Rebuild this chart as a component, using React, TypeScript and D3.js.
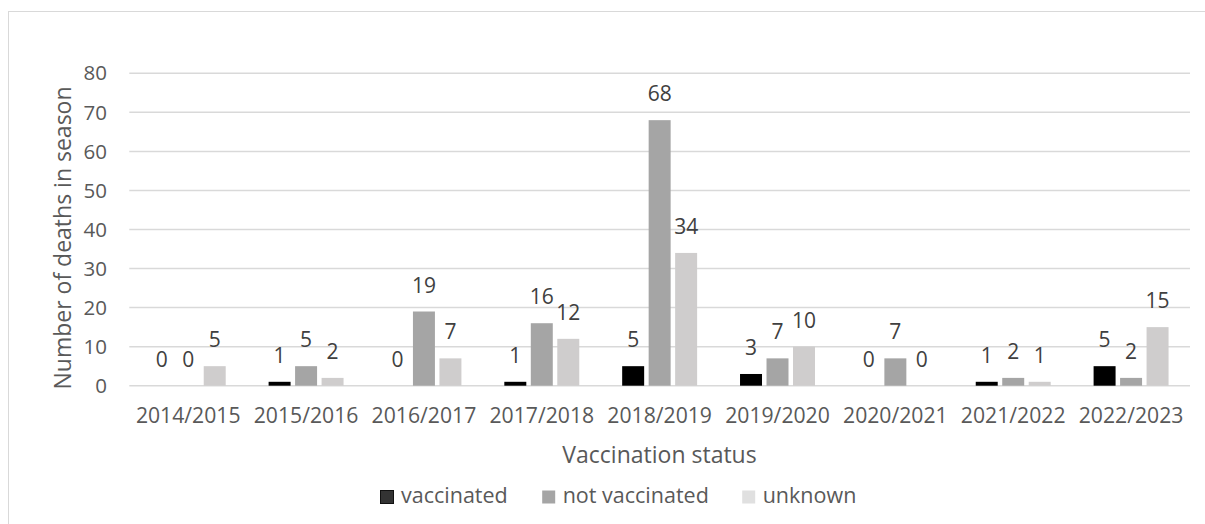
import React from "react";
import * as d3 from "d3";

const categories = ["2014/2015", "2015/2016", "2016/2017", "2017/2018", "2018/2019", "2019/2020", "2020/2021", "2021/2022", "2022/2023"];
const seriesNames = ["vaccinated", "not vaccinated", "unknown"];
const vaccinated = [0, 1, 0, 1, 5, 3, 0, 1, 5];
const notVaccinated = [0, 5, 19, 16, 68, 7, 7, 2, 2];
const unknown = [5, 2, 7, 12, 34, 10, 0, 1, 15];
const yTicks = [0, 10, 20, 30, 40, 50, 60, 70, 80];
const colors = ["#000000", "#a5a5a5", "#cfcdcd"];
const legendColors = ["#333333", "#a5a5a5", "#e0e0e0"];

const W = 1205;
const H = 524;
const FONT = "'Open Sans', sans-serif";

export default function App() {
  const values = [vaccinated, notVaccinated, unknown];
  const x0 = d3.scaleBand<string>().domain(categories).range([129.3, 1190]).paddingInner(0.364).paddingOuter(0.182);
  const x1 = d3.scaleBand<string>().domain(seriesNames).range([0, x0.bandwidth()]).paddingInner(0.17);
  const y = d3.scaleLinear().domain([0, 80]).range([385.7, 73.3]);

  const legendX = [380, 541.7, 741.7];

  return (
    <svg width={W} height={H} style={{ position: "absolute", left: 0, top: 0, background: "#fff" }} fontFamily={FONT}>
      <rect x={0} y={0} width={W} height={H} fill="#fff" />
      <rect x={8.5} y={11.5} width={1220} height={540} fill="none" stroke="#d9d9d9" strokeWidth={1} />
      {yTicks.map((t) => (
        <g key={t}>
          <line x1={129.3} x2={1190} y1={y(t)} y2={y(t)} stroke="#d9d9d9" strokeWidth={1.5} />
          <text x={107} y={y(t)} dy="0.35em" textAnchor="end" fontSize={20.5} fill="#595959">{t}</text>
        </g>
      ))}
      {categories.map((c, i) => (
        <g key={c}>
          {seriesNames.map((s, j) => {
            const v = values[j][i];
            const bx = (x0(c) as number) + (x1(s) as number);
            return (
              <g key={s}>
                <rect x={bx} y={y(v)} width={x1.bandwidth()} height={y(0) - y(v)} fill={colors[j]} />
                <text x={bx + x1.bandwidth() / 2} y={y(v) - 19} textAnchor="middle" fontSize={21} fill="#404040">{v}</text>
              </g>
            );
          })}
          <text x={(x0(c) as number) + x0.bandwidth() / 2} y={423.3} textAnchor="middle" fontSize={21.2} fill="#595959">{c}</text>
        </g>
      ))}
      <text transform={`translate(71, 238) rotate(-90)`} textAnchor="middle" fontSize={23} fill="#595959">Number of deaths in season</text>
      <text x={659.5} y={463} textAnchor="middle" fontSize={23} fill="#595959">Vaccination status</text>
      {seriesNames.map((s, j) => (
        <g key={s}>
          <rect x={legendX[j] + 0.5} y={490.5} width={13} height={13} fill={legendColors[j]} stroke={j === 0 ? "#111" : "none"} strokeWidth={1} />
          <text x={legendX[j] + 21} y={503.3} fontSize={21.5} fill="#595959">{s}</text>
        </g>
      ))}
    </svg>
  );
}
